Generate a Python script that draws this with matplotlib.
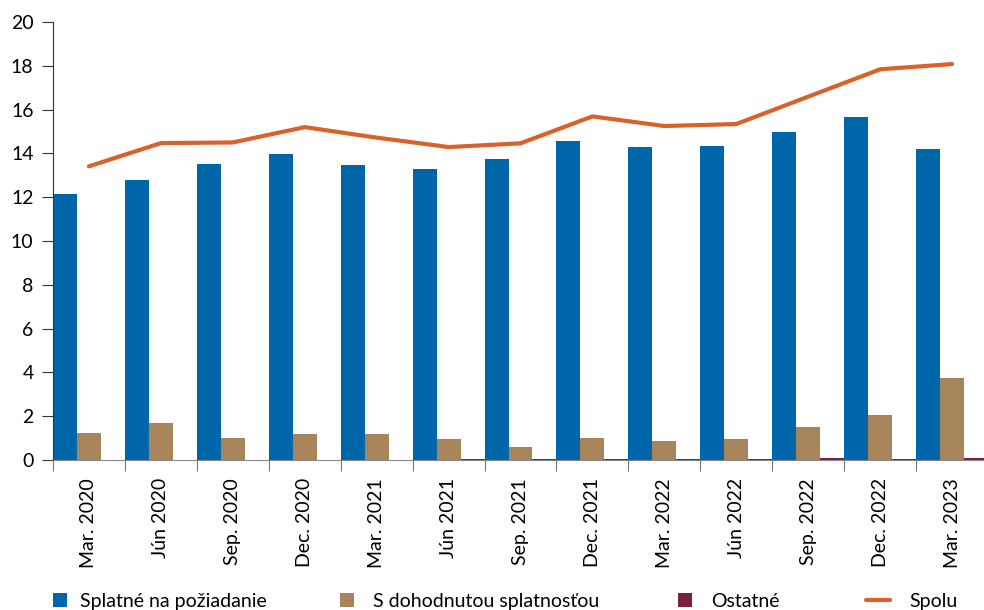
import matplotlib.pyplot as plt
import numpy as np

plt.rcParams['font.family'] = ['Lato', 'DejaVu Sans']
plt.rcParams['font.size'] = 14

obdobia = ['Mar. 2020', 'Jún 2020', 'Sep. 2020', 'Dec. 2020', 'Mar. 2021', 'Jún 2021',
           'Sep. 2021', 'Dec. 2021', 'Mar. 2022', 'Jún 2022', 'Sep. 2022', 'Dec. 2022',
           'Mar. 2023']
splatne = [12.15, 12.77, 13.50, 13.99, 13.45, 13.29, 13.76, 14.58, 14.29, 14.32, 14.96, 15.65, 14.19]
dohodnute = [1.25, 1.70, 1.02, 1.19, 1.19, 0.94, 0.59, 1.02, 0.85, 0.95, 1.51, 2.05, 3.74]
ostatne = [0.02, 0.01, 0.01, 0.02, 0.02, 0.03, 0.03, 0.05, 0.05, 0.05, 0.08, 0.05, 0.10]
spolu = [13.41, 14.47, 14.50, 15.20, 14.72, 14.29, 14.46, 15.69, 15.25, 15.34, 16.59, 17.84, 18.08]

c_modra = '#0066aa'
c_hneda = '#a8845a'
c_vino = '#7a1f3d'
c_oranz = '#d9622b'

fig = plt.figure(figsize=(9.84, 6.10), dpi=100)
ax = fig.add_axes([53 / 984, 150 / 610, 935 / 984, 438 / 610])

x = np.arange(len(obdobia))
w = 1 / 3
b1 = ax.bar(x - w, splatne, w, color=c_modra, label='Splatné na požiadanie')
b2 = ax.bar(x, dohodnute, w, color=c_hneda, label='S dohodnutou splatnosťou')
b3 = ax.bar(x + w, ostatne, w, color=c_vino, label='Ostatné')
l1, = ax.plot(x, spolu, color=c_oranz, lw=3, solid_capstyle='round', label='Spolu')

ax.set_xlim(-0.5, len(obdobia) - 0.5)
ax.set_ylim(0, 20)
ax.set_yticks(range(0, 21, 2))

# popisky v strede kategorie, ciarky na hraniciach
ax.set_xticks(x, obdobia, rotation=90)
ax.tick_params(axis='x', length=0, pad=13)
ax.set_xticks(np.arange(len(obdobia) + 1) - 0.5, minor=True)
ax.tick_params(axis='x', which='minor', length=8, color='#555555')
ax.tick_params(axis='y', length=8, color='#333333', pad=6)

for s in ['top', 'right']:
    ax.spines[s].set_visible(False)
ax.spines['left'].set_color('#333333')
ax.spines['bottom'].set_color('#888888')

# kazda polozka legendy zvlast, aby sedeli pozicie
polozky = [(b1, 53, 0.7, 0.7), (b2, 340, 0.7, 1.0), (b3, 678, 0.7, 1.0), (l1, 866, 1.25, 1.0)]
for h, px, hl, tp in polozky:
    fig.legend([h], [h.get_label()], loc='lower left', bbox_to_anchor=(px / 984, 0),
               frameon=False, borderpad=0, borderaxespad=0, handlelength=hl,
               handleheight=0.7, handletextpad=tp, fontsize=14)

fig.savefig('out.png', dpi=100)
